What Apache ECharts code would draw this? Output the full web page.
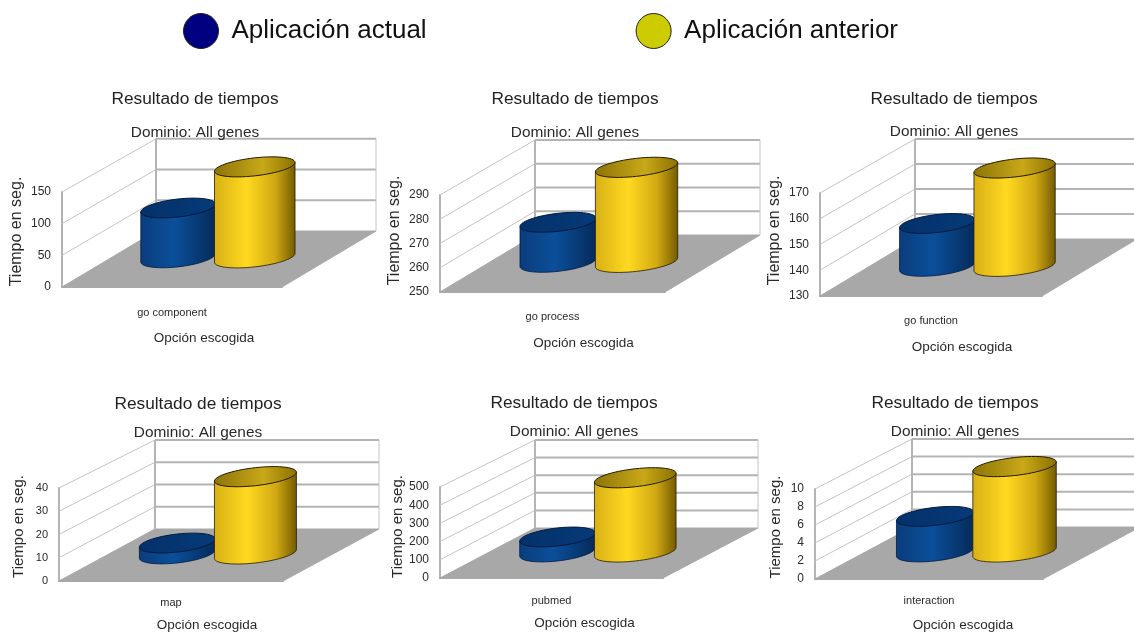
<!DOCTYPE html>
<html>
<head>
<meta charset="utf-8">
<title>Resultado de tiempos</title>
<style>
  html, body { margin: 0; padding: 0; background: #fff; }
  #chart { width: 1134px; height: 634px; }
</style>
<script src="https://cdn.jsdelivr.net/npm/echarts@6/dist/echarts.min.js"></script>
</head>
<body>
<div id="chart"></div>
<script>
// Chart data
const categories = ['go component', 'go process', 'go function', 'map', 'pubmed', 'interaction']
const valuesActual = [80, 266.7, 146.9, 4.8, 84, 4]
const valuesAnterior = [146, 289.6, 168.8, 34, 415, 9.6]
const yTicks = [
  [0, 50, 100, 150],
  [250, 260, 270, 280, 290],
  [130, 140, 150, 160, 170],
  [0, 10, 20, 30, 40],
  [0, 100, 200, 300, 400, 500],
  [0, 2, 4, 6, 8, 10]
]
const legendNames = ['Aplicación actual', 'Aplicación anterior']
const chartTitle = 'Resultado de tiempos'
const chartSubtitle = 'Dominio: All genes'
const yAxisTitle = 'Tiempo en seg.'
const xAxisTitle = 'Opción escogida'

// Where each panel sits on the page
const panels = [
  { left: 62, top: 192, right: 282, bottom: 287, dx: 94, dy: -56, backScale: 0.97, titleX: 195, titleY: 99, subY: 132, nameGap: 37, nameUp: 8, labelGap: 20, xNameGap: 44, xNameShift: 32, labelSize: 12, nameSize: 16 },
  { left: 440, top: 195, right: 665, bottom: 292, dx: 95, dy: -57, backScale: 0.98, titleX: 575, titleY: 99, subY: 132, nameGap: 37, nameUp: 13, labelGap: 19, xNameGap: 44, xNameShift: 31, labelSize: 12, nameSize: 16 },
  { left: 820, top: 193, right: 1042, bottom: 296, dx: 95, dy: -57, backScale: 0.97, titleX: 954, titleY: 99, subY: 131, nameGap: 37, nameUp: 14, labelGap: 19, xNameGap: 44, xNameShift: 31, labelSize: 12, nameSize: 16 },
  { left: 59, top: 488, right: 283, bottom: 581, dx: 96, dy: -52, backScale: 0.957, titleX: 198, titleY: 404, subY: 432, nameGap: 33, nameUp: 8, labelGap: 16, xNameGap: 37, xNameShift: 36, labelSize: 11, nameSize: 15 },
  { left: 440, top: 487, right: 663, bottom: 578, dx: 95, dy: -50, backScale: 0.967, titleX: 574, titleY: 403, subY: 431, nameGap: 34, nameUp: 6, labelGap: 17, xNameGap: 38, xNameShift: 33, labelSize: 12, nameSize: 15 },
  { left: 815, top: 489, right: 1043, bottom: 579, dx: 97, dy: -52, backScale: 0.978, titleX: 955, titleY: 403, subY: 431, nameGap: 32, nameUp: 7, labelGap: 16, xNameGap: 39, xNameShift: 34, labelSize: 12, nameSize: 15 }
]

const FONT = '"Liberation Sans", Arial, sans-serif'
const TEXT_COLOR = '#2a2a2a'
const WALL_COLOR = '#b4b4b4'
const FLOOR_COLOR = '#a8a8a8'
const BAR_DEPTH = 0.52

const blueBody = {
  type: 'linear', x: 0, y: 0, x2: 1, y2: 0,
  colorStops: [
    { offset: 0, color: '#0a3d7c' },
    { offset: 0.45, color: '#0b4f9a' },
    { offset: 1, color: '#052a5a' }
  ]
}
const yellowBody = {
  type: 'linear', x: 0, y: 0, x2: 1, y2: 0,
  colorStops: [
    { offset: 0, color: '#d8b016' },
    { offset: 0.4, color: '#ffd920' },
    { offset: 0.75, color: '#d0a812' },
    { offset: 1, color: '#735a00' }
  ]
}
const blueTop = {
  type: 'linear', x: 0, y: 0, x2: 1, y2: 0,
  colorStops: [
    { offset: 0, color: '#04316a' },
    { offset: 1, color: '#063a78' }
  ]
}
const yellowTop = {
  type: 'linear', x: 0, y: 0, x2: 1, y2: 0,
  colorStops: [
    { offset: 0, color: '#8c7408' },
    { offset: 0.6, color: '#c9a818' },
    { offset: 1, color: '#8a7000' }
  ]
}

// Carry a point on the front plane back into the chart depth
const toDepth = (point, depth, panel) => {
  const scale = 1 + depth * (panel.backScale - 1)
  return [
    point[0] + depth * panel.dx,
    panel.bottom + depth * panel.dy + (point[1] - panel.bottom) * scale
  ]
}

// Floor, wall lines and edges, one data item per tick
const renderWalls = (panel, ticks) => (params, api) => {
  const tick = api.value(1)
  const band = api.size([1, 0])[0]
  const center = api.coord([0, tick])
  const frontLeft = [center[0] - band / 2, center[1]]
  const frontRight = [center[0] + band / 2, center[1]]
  const backLeft = toDepth(frontLeft, 1, panel)
  const backRight = toDepth(frontRight, 1, panel)
  const children = []

  if (tick === ticks[0]) {
    children.push({
      type: 'polygon',
      shape: { points: [frontLeft, frontRight, backRight, backLeft] },
      style: { fill: FLOOR_COLOR, stroke: FLOOR_COLOR }
    })
  } else {
    children.push({
      type: 'polyline',
      shape: { points: [frontLeft, backLeft] },
      style: { stroke: '#c4c4c4', lineWidth: 1, fill: 'none' }
    })
    children.push({
      type: 'polyline',
      shape: { points: [backLeft, backRight] },
      style: { stroke: WALL_COLOR, lineWidth: 2, fill: 'none' }
    })
  }

  if (tick === ticks[ticks.length - 1]) {
    const floorCenter = api.coord([0, ticks[0]])
    const floorLeft = toDepth([floorCenter[0] - band / 2, floorCenter[1]], 1, panel)
    const floorRight = toDepth([floorCenter[0] + band / 2, floorCenter[1]], 1, panel)
    children.push({
      type: 'polyline',
      shape: { points: [floorLeft, backLeft] },
      style: { stroke: WALL_COLOR, lineWidth: 2, fill: 'none' }
    })
    children.push({
      type: 'polyline',
      shape: { points: [floorRight, backRight] },
      style: { stroke: '#c4c4c4', lineWidth: 1, fill: 'none' }
    })
  }

  return { type: 'group', children }
}

// Points of a tilted ellipse between two angles
const ellipseArc = (cx, cy, a, b, from, to) => {
  const points = []
  const steps = 30
  for (let i = 0; i <= steps; i++) {
    const t = from + (to - from) * i / steps
    const x = a * Math.cos(t)
    points.push([cx + x, cy + b * Math.sin(t) - x * 0.11])
  }
  return points
}

// One cylinder standing on the floor, height from the value axis
const renderCylinder = (panel, baseValue, shift, halfWidth, colors) => (params, api) => {
  const band = api.size([1, 0])[0]
  const base = toDepth(api.coord([0, baseValue]), BAR_DEPTH, panel)
  const top = toDepth(api.coord([0, api.value(1)]), BAR_DEPTH, panel)
  const cx = base[0] + shift * band
  const a = halfWidth * band
  const b = 9
  const lowerEdge = ellipseArc(cx, base[1], a, b, 0, Math.PI)
  const upperEdge = ellipseArc(cx, top[1], a, b, Math.PI, 0)

  return {
    type: 'group',
    children: [
      {
        type: 'polygon',
        shape: { points: lowerEdge.concat([[cx - a, top[1] + a * 0.11], [cx + a, top[1] - a * 0.11]]) },
        style: { fill: colors.body, stroke: colors.line, lineWidth: 0.8 }
      },
      {
        type: 'polygon',
        shape: { points: upperEdge.concat(ellipseArc(cx, top[1], a, b, 0, -Math.PI)) },
        style: { fill: colors.top, stroke: colors.line, lineWidth: 1 }
      }
    ]
  }
}

const grid = []
const xAxis = []
const yAxis = []
const title = []
const series = []

panels.forEach((panel, i) => {
  const ticks = yTicks[i]

  grid.push({
    left: panel.left,
    top: panel.top,
    width: panel.right - panel.left,
    height: panel.bottom - panel.top
  })

  xAxis.push({
    type: 'category',
    gridIndex: i,
    data: [categories[i]],
    name: xAxisTitle,
    nameLocation: 'middle',
    nameGap: panel.xNameGap,
    nameTextStyle: {
      fontFamily: FONT,
      fontSize: 13.5,
      color: TEXT_COLOR,
      padding: [0, 0, 0, panel.xNameShift * 2]
    },
    axisLine: { show: true, lineStyle: { color: FLOOR_COLOR, width: 2 } },
    axisTick: { show: false },
    axisLabel: { fontFamily: FONT, fontSize: 11, color: TEXT_COLOR, margin: panel.labelGap }
  })

  yAxis.push({
    type: 'value',
    gridIndex: i,
    min: ticks[0],
    max: ticks[ticks.length - 1],
    interval: ticks[1] - ticks[0],
    name: yAxisTitle,
    nameLocation: 'middle',
    nameGap: panel.nameGap,
    nameTextStyle: {
      fontFamily: FONT,
      fontSize: panel.nameSize,
      color: TEXT_COLOR,
      padding: [0, 0, 0, panel.nameUp * 2]
    },
    axisLine: { show: true, lineStyle: { color: WALL_COLOR, width: 2 } },
    axisTick: { show: false },
    splitLine: { show: false },
    axisLabel: { fontFamily: FONT, fontSize: panel.labelSize, color: TEXT_COLOR, margin: 11 }
  })

  title.push({
    text: chartTitle,
    subtext: chartSubtitle,
    left: panel.titleX,
    top: panel.titleY - 8,
    textAlign: 'center',
    padding: 0,
    itemGap: panel.subY - panel.titleY - 16,
    textStyle: { fontFamily: FONT, fontSize: 17.3, fontWeight: 'normal', color: '#222' },
    subtextStyle: { fontFamily: FONT, fontSize: 15.4, color: TEXT_COLOR }
  })

  series.push({
    type: 'custom',
    name: 'walls',
    xAxisIndex: i,
    yAxisIndex: i,
    silent: true,
    z: 1,
    data: ticks.map((tick) => [0, tick]),
    renderItem: renderWalls(panel, ticks)
  })

  series.push({
    type: 'custom',
    name: legendNames[0],
    xAxisIndex: i,
    yAxisIndex: i,
    z: 2,
    itemStyle: { color: '#000080' },
    data: [[0, valuesActual[i]]],
    renderItem: renderCylinder(panel, ticks[0], -0.195, 0.169, { body: blueBody, top: blueTop, line: '#021a40' })
  })

  series.push({
    type: 'custom',
    name: legendNames[1],
    xAxisIndex: i,
    yAxisIndex: i,
    z: 3,
    itemStyle: { color: '#cccc00' },
    data: [[0, valuesAnterior[i]]],
    renderItem: renderCylinder(panel, ticks[0], 0.154, 0.183, { body: yellowBody, top: yellowTop, line: '#241a00' })
  })
})

const chartInstance = echarts.init(document.getElementById('chart'), null, { renderer: 'canvas' })

chartInstance.setOption({
  backgroundColor: '#fff',
  animation: false,
  legend: {
    left: 183,
    top: 13,
    padding: 0,
    itemWidth: 35,
    itemHeight: 35,
    itemGap: 209,
    selectedMode: false,
    icon: 'circle',
    textStyle: { fontFamily: FONT, fontSize: 26, color: '#111', padding: [0, 0, 0, 8] },
    data: [
      { name: legendNames[0], itemStyle: { color: '#000080', borderColor: '#222', borderWidth: 1 } },
      { name: legendNames[1], itemStyle: { color: '#cccc00', borderColor: '#222', borderWidth: 1 } }
    ]
  },
  title,
  grid,
  xAxis,
  yAxis,
  series
})
</script>
</body>
</html>
